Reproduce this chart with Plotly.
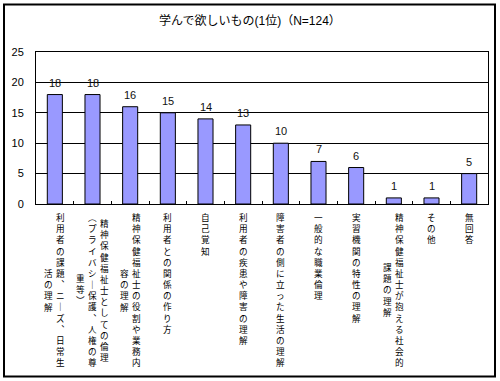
import plotly.graph_objects as go

# ---- data ----
title_text = "学んで欲しいもの(1位)（N=124）"
categories = [
    "利用者の課題、ニーズ、日常生活の理解",
    "精神保健福祉士としての倫理（プライバシー保護、人権の尊重等）",
    "精神保健福祉士の役割や業務内容の理解",
    "利用者との関係の作り方",
    "自己覚知",
    "利用者の疾患や障害の理解",
    "障害者の側に立った生活の理解",
    "一般的な職業倫理",
    "実習機関の特性の理解",
    "精神保健福祉士が抱える社会的課題の理解",
    "その他",
    "無回答",
]
values = [18, 18, 16, 15, 14, 13, 10, 7, 6, 1, 1, 5]
# vertical tick-label columns (right-most column first)
label_columns = [
    ["利用者の課題、ニーズ、日常生", "活の理解"],
    ["精神保健福祉士としての倫理", "（プライバシー保護、人権の尊", "重等）"],
    ["精神保健福祉士の役割や業務内", "容の理解"],
    ["利用者との関係の作り方"],
    ["自己覚知"],
    ["利用者の疾患や障害の理解"],
    ["障害者の側に立った生活の理解"],
    ["一般的な職業倫理"],
    ["実習機関の特性の理解"],
    ["精神保健福祉士が抱える社会的", "課題の理解"],
    ["その他"],
    ["無回答"],
]
y_ticks = [0, 5, 10, 15, 20, 25]

# ---- layout constants ----
W, H = 500, 381
L, R, T, B = 36, 12, 52, 177
PW, PH = W - L - R, H - T - B
FONT = "Liberation Sans, Noto Sans CJK JP, sans-serif"
JFONT = "Noto Sans CJK JP, sans-serif"
VERT = {"、": "︑", "ー": "｜", "（": "︵", "）": "︶"}
FS_LBL = 8.6
PITCH = FS_LBL * 1.3
COL_GAP = 12
LABEL_TOP = 5


def px_x(px):
    return (px - L) / PW


def px_y(py):
    return (H - B - py) / PH


fig = go.Figure(
    go.Bar(
        x=categories,
        y=values,
        marker=dict(color="#9999FF", line=dict(color="black", width=1)),
        cliponaxis=False,
    )
)

annotations = []
# value labels above bars
for i, v in enumerate(values):
    annotations.append(
        dict(
            x=i, xref="x", y=v, yref="y", xanchor="center", yanchor="bottom",
            yshift=4, text=str(v), showarrow=False,
            font=dict(size=11, color="#111111", family=FONT),
        )
    )
# vertical category labels
for i, cols in enumerate(label_columns):
    n = len(cols)
    maxlen = max(len(c) for c in cols)
    for j, col in enumerate(cols):
        txt = "<br>".join(VERT.get(ch, ch) for ch in col)
        annotations.append(
            dict(
                x=i, xref="x", y=0, yref="paper",
                xanchor="center", yanchor="top",
                xshift=((n - 1) / 2 - j) * COL_GAP,
                yshift=-LABEL_TOP - (maxlen - len(col)) / 2 * PITCH,
                text=txt, showarrow=False,
                font=dict(size=FS_LBL, color="black", family=JFONT),
            )
        )

fig.update_layout(
    width=W, height=H,
    margin=dict(l=L, r=R, t=T, b=B, pad=0),
    paper_bgcolor="white", plot_bgcolor="white",
    showlegend=False,
    bargap=0.6,
    title=dict(
        text=title_text, x=0.5, xref="container", xanchor="center",
        y=1 - 21 / H, yref="container", yanchor="middle",
        font=dict(size=12, color="black", family=FONT),
    ),
    xaxis=dict(
        type="category", showticklabels=False, ticks="inside", ticklen=3,
        tickcolor="black", tickson="boundaries", showgrid=False,
        showline=True, mirror=True, linecolor="black", linewidth=1,
    ),
    yaxis=dict(
        range=[0, 25], tickvals=y_ticks, showgrid=True, gridcolor="black",
        gridwidth=1, showline=True, mirror=True, linecolor="black", linewidth=1,
        ticks="", ticklabelstandoff=9, zeroline=False,
        tickfont=dict(size=11, color="black", family=FONT),
    ),
    annotations=annotations,
    shapes=[
        dict(
            type="rect", xref="paper", yref="paper",
            x0=px_x(4), x1=px_x(495), y0=px_y(376.5), y1=px_y(4.5),
            line=dict(color="black", width=2), fillcolor="rgba(0,0,0,0)",
            layer="below",
        )
    ],
)

fig.write_html("out.html")
